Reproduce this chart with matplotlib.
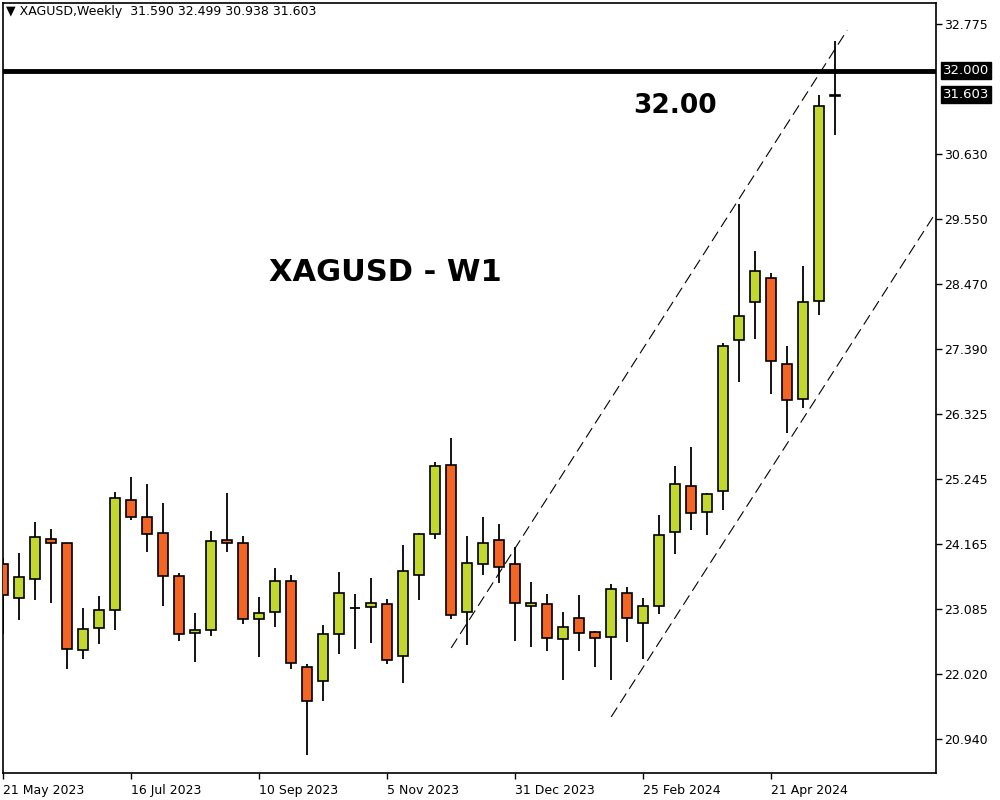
import matplotlib
matplotlib.use("Agg")
import matplotlib.pyplot as plt

# weekly candles XAGUSD, 21 May 2023 .. 19 May 2024
opens = [23.832, 23.269, 23.583, 24.246, 24.179, 22.408, 22.772, 23.070, 24.891, 24.610,
         24.345, 23.633, 22.690, 22.739, 24.229, 24.179, 22.921, 23.037, 23.550, 22.127,
         21.895, 22.673, 23.100, 23.120, 23.170, 22.309, 23.650, 24.328, 25.470, 23.037,
         23.832, 24.229, 23.832, 23.136, 23.170, 22.590, 22.938, 22.706, 22.623, 23.352,
         22.855, 23.136, 24.361, 25.123, 24.692, 25.040, 27.539, 28.168, 28.566, 27.142,
         26.563, 28.185, 31.590]
highs = [23.936, 24.019, 24.532, 24.416, 24.184, 23.108, 23.307, 25.028, 25.277, 25.161,
         24.846, 23.683, 23.026, 24.383, 25.012, 24.300, 23.290, 23.770, 23.655, 22.177,
         22.827, 23.704, 23.340, 23.605, 23.257, 24.151, 24.345, 25.525, 25.922, 24.300,
         24.615, 24.499, 24.118, 23.539, 23.340, 23.042, 23.324, 22.733, 23.506, 23.451,
         23.269, 24.643, 25.454, 25.773, 25.007, 27.490, 29.790, 29.012, 28.648, 27.445,
         28.764, 31.595, 32.499]
lows = [22.678, 22.915, 23.246, 23.196, 22.104, 22.269, 22.518, 22.749, 24.570, 24.040,
        23.147, 22.567, 22.220, 22.650, 24.040, 22.839, 22.302, 22.799, 22.104, 20.680,
        21.574, 22.352, 22.435, 22.534, 22.187, 21.872, 23.246, 24.256, 22.931, 22.501,
        23.660, 23.527, 22.567, 22.468, 22.402, 21.922, 22.402, 22.137, 21.922, 22.551,
        22.269, 23.014, 24.007, 24.405, 24.322, 24.735, 26.854, 27.566, 26.655, 26.010,
        26.424, 27.963, 30.938]
closes = [23.319, 23.617, 24.279, 24.179, 22.425, 22.756, 23.070, 24.924, 24.610, 24.328,
          23.633, 22.673, 22.739, 24.213, 24.179, 22.921, 23.021, 23.550, 22.193, 21.564,
          22.673, 23.352, 23.105, 23.186, 22.243, 23.716, 24.328, 25.454, 22.988, 23.848,
          24.179, 23.782, 23.186, 23.186, 22.607, 22.789, 22.690, 22.607, 23.418, 22.938,
          23.136, 24.312, 25.156, 24.676, 24.990, 27.440, 27.937, 28.681, 27.192, 26.546,
          28.168, 31.413, 31.603]

date_ticks = [0, 8, 16, 24, 32, 40, 48]
date_labels = ["21 May 2023", "16 Jul 2023", "10 Sep 2023", "5 Nov 2023",
               "31 Dec 2023", "25 Feb 2024", "21 Apr 2024"]
price_ticks = [32.775, 30.630, 29.550, 28.470, 27.390, 26.325, 25.245,
               24.165, 23.085, 22.020, 20.940]

# channel anchors (bar index, price)
upper_x = [28.0, 52.75]
upper_y = [22.446, 32.675]
lower_x = [38.0, 58.31]
lower_y = [21.304, 29.663]
level = 32.0

bull = "#C3D82F"
bear = "#F26522"

fig = plt.figure(figsize=(10, 8), dpi=100)
ax = fig.add_axes([0.0027, 1 - 772.7 / 800, (936 - 2.7) / 1000, (772.7 - 2.7) / 800])
ax.set_xlim(-0.03, 58.3)
ax.set_ylim(20.38, 33.13)

xs = list(range(len(opens)))
ax.vlines(xs, lows, highs, color="black", lw=1.3, zorder=2)
for i in xs:
    o, c = opens[i], closes[i]
    col = bull if c >= o else bear
    h = abs(c - o)
    if h < 0.01:
        ax.hlines(o, i - 0.33, i + 0.33, color="black", lw=1.3, zorder=3)
    else:
        ax.bar(i, h, bottom=min(o, c), width=0.62, color=col,
               edgecolor="black", linewidth=1.2, zorder=3)

# trend channel + level
ax.plot(upper_x, upper_y, color="black", lw=0.8, dashes=[10, 5], zorder=1)
ax.plot(lower_x, lower_y, color="black", lw=0.8, dashes=[10, 5], zorder=1)
ax.axhline(level, color="black", lw=3.5, zorder=4)

ax.text(23.9, 28.67, "XAGUSD - W1", fontsize=22, fontweight="bold",
        ha="center", va="center")
ax.text(42.0, 31.42, "32.00", fontsize=19, fontweight="bold",
        ha="center", va="center")
ax.text(0.004, 0.988, "\u25BC XAGUSD,Weekly  31.590 32.499 30.938 31.603",
        transform=ax.transAxes, fontsize=9, ha="left", va="center")

ax.yaxis.tick_right()
ax.set_yticks(price_ticks)
ax.set_yticklabels([f"{v:.3f}" for v in price_ticks])
ax.set_xticks(date_ticks)
ax.set_xticklabels(date_labels, ha="left")
ax.tick_params(axis="both", length=4, width=1, labelsize=9, pad=2)
ax.tick_params(axis="x", pad=4)

for v in (32.0, closes[-1]):
    ax.annotate(f"{v:.3f}", xy=(1.0, v), xycoords=("axes fraction", "data"),
                xytext=(5, 0), textcoords="offset points", fontsize=9.5,
                color="white", ha="left", va="center",
                bbox=dict(boxstyle="square,pad=0.15", fc="black", ec="black"))

for s in ax.spines.values():
    s.set_linewidth(1.2)

fig.savefig("out.png", dpi=100)
